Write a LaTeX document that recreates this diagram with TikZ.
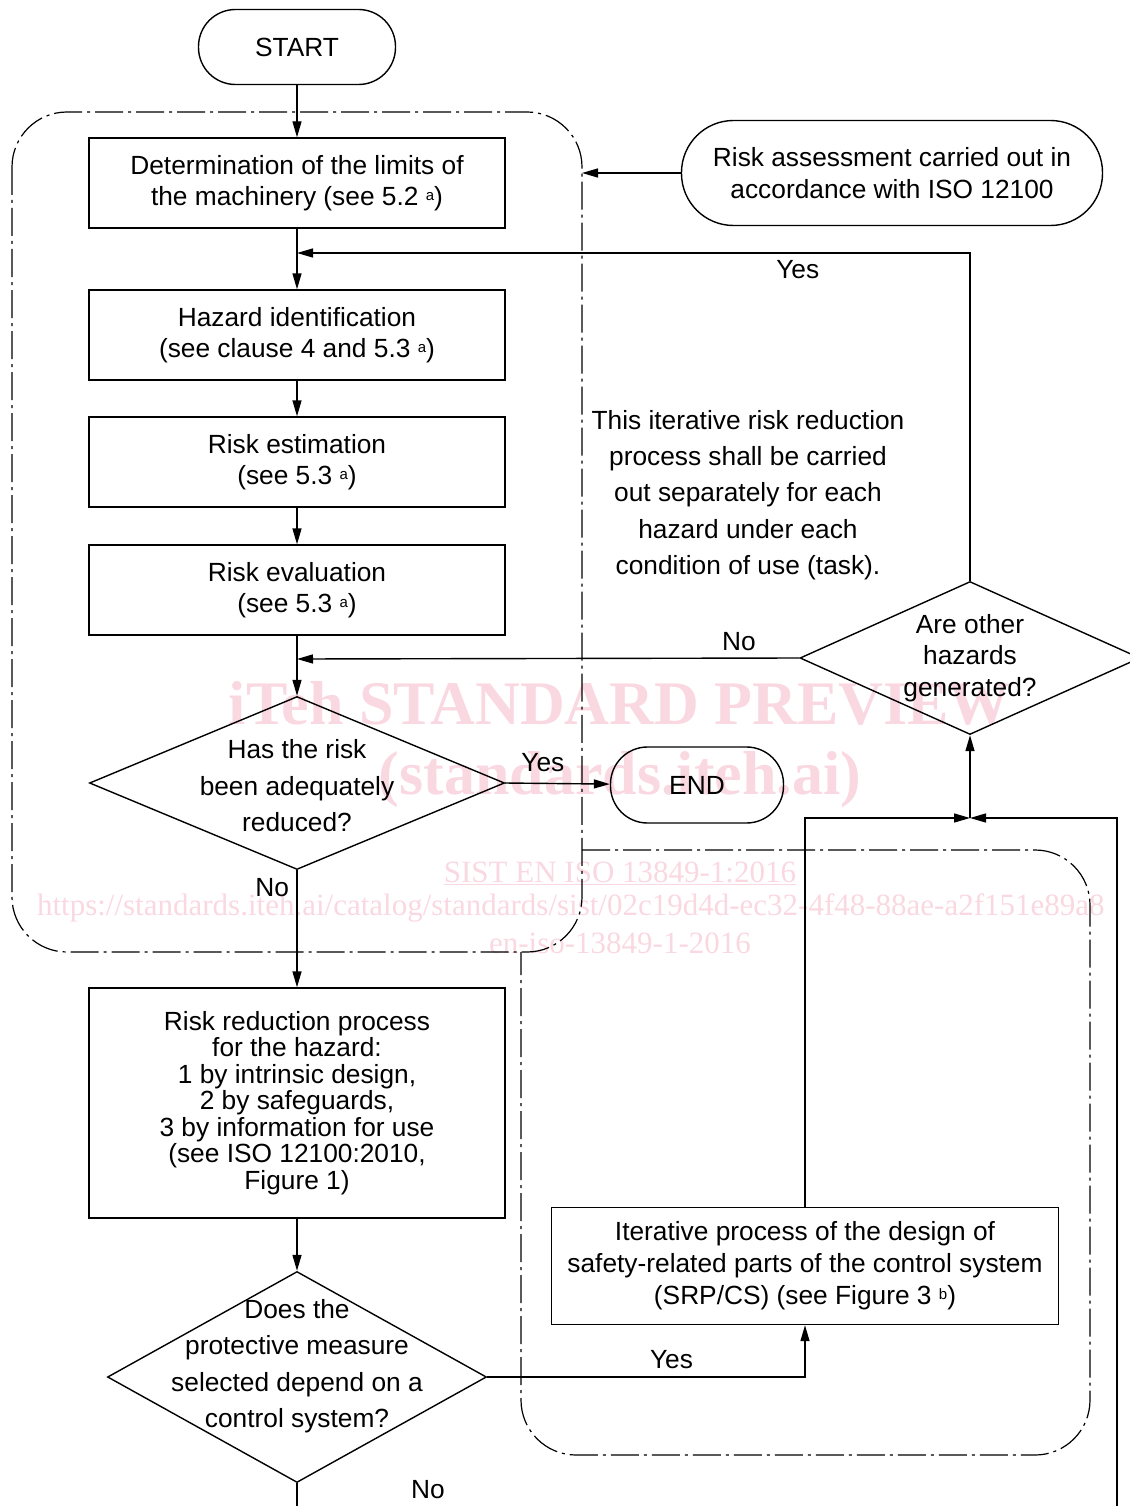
\documentclass[tikz,border=0pt]{standalone}
\usepackage{fontspec}
\setmainfont{Liberation Sans}
\newfontfamily\wmfont{Liberation Serif}
\usetikzlibrary{shapes.geometric,arrows.meta}
\definecolor{wmpink}{RGB}{250,216,225}
\newcommand{\fnref}[1]{{\fontsize{15}{15}\selectfont\raisebox{5pt}{#1}}}

\begin{document}
\begin{tikzpicture}[x=1pt,y=-1pt, line width=1.4pt,
  font=\fontsize{26.3}{31}\selectfont,
  >={Triangle[length=16pt,width=9pt]},
  process/.style={draw, rectangle, minimum width=416pt, minimum height=90pt, align=center, inner sep=0pt},
  terminal/.style={draw, rectangle, rounded corners=37pt, minimum width=197pt, minimum height=75pt, align=center},
  decision/.style={draw, diamond, inner sep=0pt},
  qtext/.style={align=center, inner sep=0pt, font=\fontsize{26.3}{36.5}\selectfont},
  frame/.style={line width=1.2pt, dash pattern=on 28pt off 5pt on 3pt off 5pt, rounded corners=55pt},
  wmbig/.style={text=wmpink, font=\wmfont\bfseries\fontsize{62}{62}\selectfont},
  wmsmall/.style={text=wmpink, font=\wmfont\fontsize{31}{31}\selectfont}]
\useasboundingbox (0,0) rectangle (1129,1506);

% watermark
\node[wmbig] (wm1) at (620,703) {iTeh STANDARD PREVIEW};
\node[wmbig] (wm2) at (620,780) {(standards.iteh.ai)};
\node[wmsmall] (wm3) at (620,873) {\underline{SIST EN ISO 13849-1:2016}};
\node[wmsmall, anchor=west] (wm4) at (33,908) {https://standards.iteh.ai/catalog/standards/sist/02c19d4d-ec32-4f48-88ae-a2f151e89a8};
\node[wmsmall] (wm5) at (620,943) {en-iso-13849-1-2016};

% frames
\draw[frame] (12,112) rectangle (582,952);
\draw[frame] (582,850) -- (1090,850) -- (1090,1455) -- (521,1455) -- (521,952);

\node[terminal] (start) at (297,47) {START};
\node[process] (limits) at (297,183) {Determination of the limits of\\the machinery (see 5.2 \fnref{a})};
\node[process] (hazard) at (297,335) {Hazard identification\\(see clause 4 and 5.3 \fnref{a})};
\node[process] (estim) at (297,462) {Risk estimation\\(see 5.3 \fnref{a})};
\node[process] (evalu) at (297,590) {Risk evaluation\\(see 5.3 \fnref{a})};
\node[decision, minimum width=415pt, minimum height=173pt] (reduced) at (297,783) {};
\node[qtext] (reduced-t) at (297,786) {Has the risk\\been adequately\\reduced?};
\node[terminal, minimum width=173pt, minimum height=76pt] (end) at (697,785) {END};
\node[process, minimum height=230pt, font=\fontsize{26.3}{26.5}\selectfont] (reduce) at (297,1103)
  {Risk reduction process\\for the hazard:\\1 by intrinsic design,\\2 by safeguards,\\3 by information for use\\(see ISO 12100:2010,\\Figure 1)};
\node[decision, minimum width=379pt, minimum height=211pt] (control) at (297,1377) {};
\node[qtext] (control-t) at (297,1366) {Does the\\protective measure\\selected depend on a\\control system?};
\node[process, minimum width=507pt, minimum height=117pt, font=\fontsize{26.3}{32}\selectfont] (srp) at (805,1266)
  {Iterative process of the design of\\safety-related parts of the control system\\(SRP/CS) (see Figure 3 \fnref{b})};
\node[decision, minimum width=340pt, minimum height=153pt] (other) at (970,658) {};
\node[qtext, font=\fontsize{26.3}{31.5}\selectfont] (other-t) at (970,658) {Are other\\hazards\\generated?};
\node[terminal, minimum width=421pt, minimum height=105pt, rounded corners=52pt, font=\fontsize{26.3}{32}\selectfont] (assess) at (892,173)
  {Risk assessment carried out in\\accordance with ISO 12100};
\node[qtext, font=\fontsize{26.3}{36.3}\selectfont] (note) at (748,495)
  {This iterative risk reduction\\process shall be carried\\out separately for each\\hazard under each\\condition of use (task).};

\coordinate (yesin) at (297,253);
\coordinate (noin) at (297,659);
\coordinate (join) at (970,818);
\coordinate (framer) at (582,173);
\coordinate (bottomL) at (297,1506);
\coordinate (bottomR) at (1117,1506);

\draw[->] (start) -- (limits);
\draw[->] (limits) -- (hazard);
\draw[->] (hazard) -- (estim);
\draw[->] (estim) -- (evalu);
\draw[->] (evalu) -- (reduced.north);
\draw[->] (reduced.east) -- node[above=8pt, pos=0.36] (yes1) {Yes} (end);
\draw[->] (reduced.south) -- node[left=4pt, pos=0.15] (no1) {No} (reduce);
\draw[->] (reduce) -- (control.north);
\draw[->] (control.east) -| node[above=4pt, pos=0.29] (yes2) {Yes} (srp.south);
\draw (control.south) -- (bottomL);
\node (no2) at (428,1490) {No};
\draw[->] (bottomR) |- (join);
\draw[->] (srp.north) |- (join);
\draw[->] (join) -- (other.south);
\draw[->] (other.north) |- node[below=3pt, pos=0.628] (yes3) {Yes} (yesin);
\draw[->] (other.west) -- node[above=3pt, pos=0.12] (no3) {No} (noin);
\draw[->] (assess.west) -- (framer);
\end{tikzpicture}
\end{document}
